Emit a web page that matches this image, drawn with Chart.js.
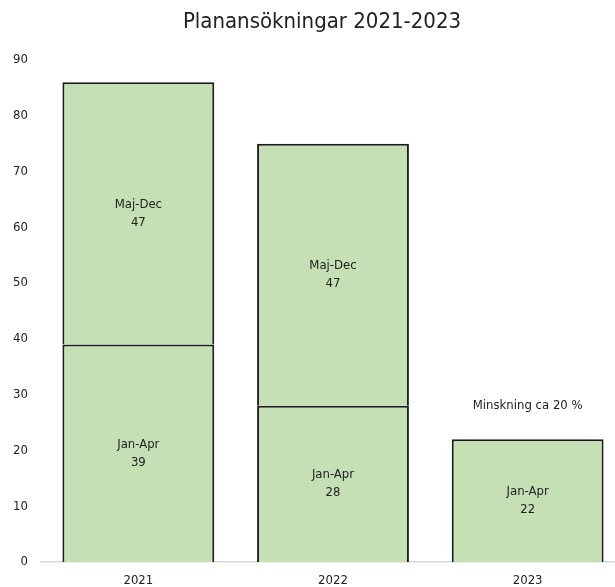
<!DOCTYPE html>
<html>
<head>
<meta charset="utf-8">
<script src="https://cdn.jsdelivr.net/npm/chart.js@4/dist/chart.umd.min.js"></script>
<style>
html,body{margin:0;padding:0;background:#fff;overflow:hidden;width:615px;height:587px;}
#wrap{width:625px;height:587px;}
</style>
</head>
<body>
<div id="wrap"><canvas id="c" width="625" height="587"></canvas></div>
<script>
const categories = ['2021', '2022', '2023'];
const seriesNames = ['Jan-Apr', 'Maj-Dec'];
const janApr = [39, 28, 22];
const majDec = [47, 47, null];
const yTicks = [0, 10, 20, 30, 40, 50, 60, 70, 80, 90];
const titleText = 'Planansökningar 2021-2023';
const noteText = 'Minskning ca 20 %';
const noteCategory = '2023';
const noteValue = 28;

const FONT = "'DejaVu Sans Condensed', 'Liberation Sans Narrow', 'Open Sans', sans-serif";
const FILL = '#c5e0b4';
const EDGE = '#1c1c1c';

const labelPlugin = {
  id: 'segLabels',
  afterDatasetsDraw(chart) {
    const ctx = chart.ctx;
    ctx.save();
    ctx.fillStyle = '#222';
    ctx.font = '13px ' + FONT;
    ctx.textAlign = 'center';
    ctx.textBaseline = 'middle';
    chart.data.datasets.forEach((ds, di) => {
      const meta = chart.getDatasetMeta(di);
      meta.data.forEach((el, i) => {
        const v = ds.data[i];
        if (v === null || v === undefined) return;
        const cy = (el.y + el.base) / 2;
        ctx.fillText(ds.label, el.x, cy - 9);
        ctx.fillText(String(v), el.x, cy + 9);
      });
    });
    const xs = chart.scales.x, ys = chart.scales.y;
    ctx.fillText(noteText, xs.getPixelForValue(categories.indexOf(noteCategory)), ys.getPixelForValue(noteValue));
    // title, centred over the visible page width
    ctx.font = '22px ' + FONT;
    ctx.fillText(titleText, 322, 22);
    ctx.restore();
  }
};

new Chart(document.getElementById('c'), {
  type: 'bar',
  data: {
    labels: categories,
    datasets: [
      { label: seriesNames[0], data: janApr, backgroundColor: FILL, borderColor: EDGE, borderWidth: 2, categoryPercentage: 1, barPercentage: 0.78 },
      { label: seriesNames[1], data: majDec, backgroundColor: FILL, borderColor: EDGE, borderWidth: 2, categoryPercentage: 1, barPercentage: 0.78 }
    ]
  },
  options: {
    responsive: false,
    animation: false,
    devicePixelRatio: 1,
    layout: { padding: { left: 0, right: 0, top: 60, bottom: 0 } },
    plugins: {
      legend: { display: false },
      tooltip: { enabled: false },
      title: { display: false }
    },
    scales: {
      x: {
        stacked: true,
        grid: { display: false },
        border: { display: true, color: '#d9d9d9', width: 1.5 },
        ticks: { color: '#222', font: { family: FONT, size: 13 }, padding: 3 },
        afterFit(s) { s.height = 25; }
      },
      y: {
        stacked: true,
        min: 0, max: 90,
        afterBuildTicks(s) { s.ticks = yTicks.map(v => ({ value: v })); },
        grid: { display: false },
        border: { display: false },
        ticks: { color: '#222', font: { family: FONT, size: 13 }, padding: 5 },
        afterFit(s) { s.width = 41; }
      }
    }
  },
  plugins: [labelPlugin]
});
</script>
</body>
</html>
